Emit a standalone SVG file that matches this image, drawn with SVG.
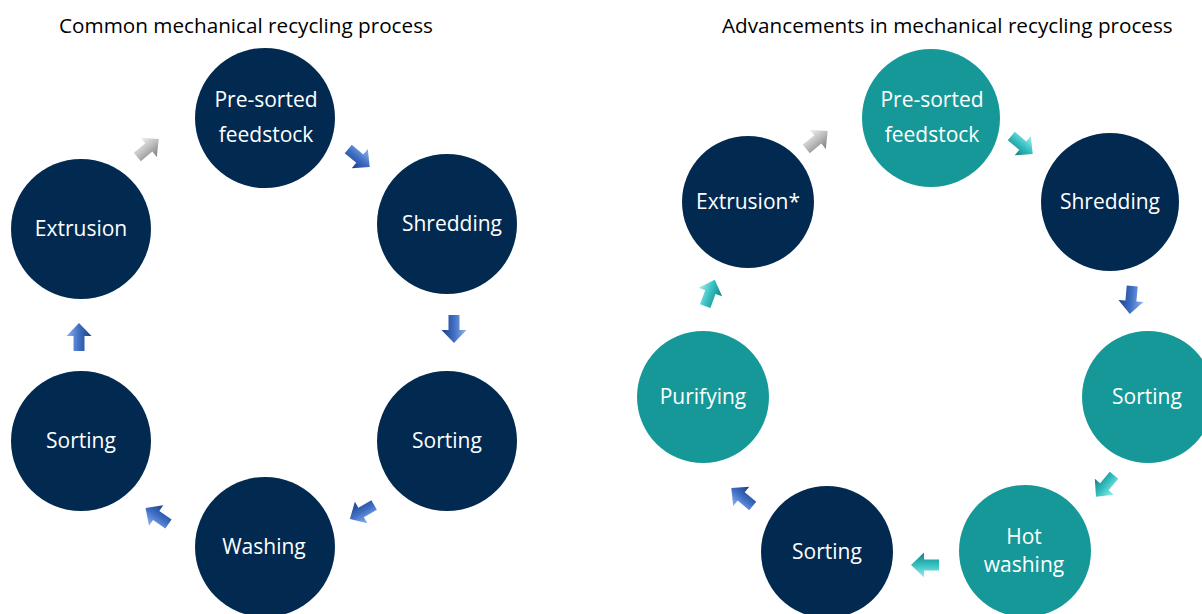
<svg xmlns="http://www.w3.org/2000/svg" width="1202" height="614" viewBox="0 0 1202 614">
  <defs>
    <style>
      .title { font-family: "Open Sans", "Noto Sans", sans-serif; font-size: 20.7px; fill: #000; }
      .label { font-family: "Open Sans", "Noto Sans", sans-serif; font-size: 21px; fill: #fff; text-anchor: middle; }
      .navy { fill: #022a51; }
      .teal { fill: #179898; }
    </style>
    <linearGradient id="gBlue" x1="0" y1="0" x2="0" y2="1">
      <stop offset="0" stop-color="#8fb4ee"/>
      <stop offset="0.5" stop-color="#3f6fc4"/>
      <stop offset="1" stop-color="#1d3f86"/>
    </linearGradient>
    <linearGradient id="gGray" x1="0" y1="0" x2="0" y2="1">
      <stop offset="0" stop-color="#f2f2f2"/>
      <stop offset="0.5" stop-color="#bdbdbd"/>
      <stop offset="1" stop-color="#7d7d7d"/>
    </linearGradient>
    <linearGradient id="gTeal" x1="0" y1="0" x2="0" y2="1">
      <stop offset="0" stop-color="#9ff0ee"/>
      <stop offset="0.5" stop-color="#35c0c0"/>
      <stop offset="1" stop-color="#147f84"/>
    </linearGradient>
    <!-- block arrow pointing right, centred on the origin -->
    <path id="arw" d="M-14,-5.5 L1,-5.5 L1,-12.5 L14,0 L1,12.5 L1,5.5 L-14,5.5 Z"/>
  </defs>

  <text class="title" x="59" y="33">Common mechanical recycling process</text>
  <text class="title" x="722" y="33">Advancements in mechanical recycling process</text>

  <!-- left cycle -->
  <g id="l-presorted"><circle class="navy" cx="265" cy="118" r="70"/><text class="label" x="266" y="107">Pre-sorted</text><text class="label" x="266" y="142">feedstock</text></g>
  <g id="l-shredding"><circle class="navy" cx="447" cy="224" r="70"/><text class="label" x="452" y="231">Shredding</text></g>
  <g id="l-sorting2"><circle class="navy" cx="447" cy="441" r="70"/><text class="label" x="447" y="448">Sorting</text></g>
  <g id="l-washing"><circle class="navy" cx="265" cy="547" r="70"/><text class="label" x="264" y="554">Washing</text></g>
  <g id="l-sorting1"><circle class="navy" cx="81" cy="441" r="70"/><text class="label" x="81" y="448">Sorting</text></g>
  <g id="l-extrusion"><circle class="navy" cx="81" cy="229" r="70"/><text class="label" x="81" y="236">Extrusion</text></g>

  <!-- right cycle -->
  <g id="r-presorted"><circle class="teal" cx="931" cy="118" r="69"/><text class="label" x="932" y="107">Pre-sorted</text><text class="label" x="932" y="142">feedstock</text></g>
  <g id="r-shredding"><circle class="navy" cx="1110" cy="202" r="69"/><text class="label" x="1110" y="209">Shredding</text></g>
  <g id="r-sorting2"><circle class="teal" cx="1148" cy="397" r="66"/><text class="label" x="1147" y="404">Sorting</text></g>
  <g id="r-hotwashing"><circle class="teal" cx="1025" cy="551" r="66"/><text class="label" x="1024" y="544">Hot</text><text class="label" x="1024" y="572">washing</text></g>
  <g id="r-sorting1"><circle class="navy" cx="827" cy="552" r="66"/><text class="label" x="827" y="559">Sorting</text></g>
  <g id="r-purifying"><circle class="teal" cx="703" cy="397" r="66"/><text class="label" x="703" y="404">Purifying</text></g>
  <g id="r-extrusion"><circle class="navy" cx="748" cy="202" r="66"/><text class="label" x="748" y="209">Extrusion*</text></g>

  <!-- connectors -->
  <g id="connectors">
    <use href="#arw" fill="url(#gGray)" transform="translate(148,148) rotate(-40)"/>
    <use href="#arw" fill="url(#gBlue)" transform="translate(359,158) rotate(40)"/>
    <use href="#arw" fill="url(#gBlue)" transform="translate(454,329) rotate(90)"/>
    <use href="#arw" fill="url(#gBlue)" transform="translate(362,512) rotate(150)"/>
    <use href="#arw" fill="url(#gBlue)" transform="translate(157,516) rotate(-145)"/>
    <use href="#arw" fill="url(#gBlue)" transform="translate(79,337) rotate(-90)"/>

    <use href="#arw" fill="url(#gGray)" transform="translate(817,140) rotate(-40)"/>
    <use href="#arw" fill="url(#gTeal)" transform="translate(1022,145) rotate(40)"/>
    <use href="#arw" fill="url(#gBlue)" transform="translate(1131,300) rotate(95)"/>
    <use href="#arw" fill="url(#gTeal)" transform="translate(1105,486) rotate(130)"/>
    <use href="#arw" fill="url(#gTeal)" transform="translate(925,565) rotate(180)"/>
    <use href="#arw" fill="url(#gBlue)" transform="translate(742,497) rotate(-140)"/>
    <use href="#arw" fill="url(#gTeal)" transform="translate(710,293) rotate(-70)"/>
  </g>
</svg>
